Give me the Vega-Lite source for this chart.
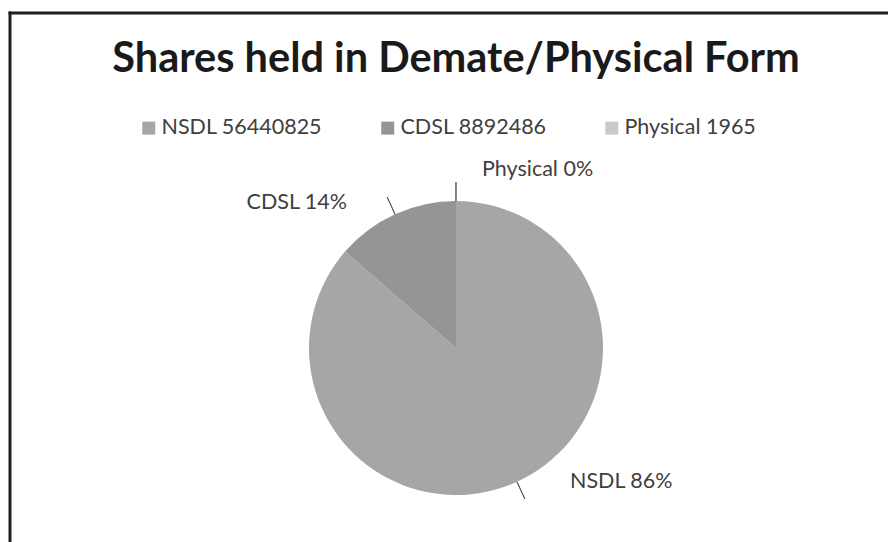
{
  "$schema": "https://vega.github.io/schema/vega-lite/v6.json",
  "autosize": "none",
  "width": 864,
  "height": 388,
  "padding": {"left": 24, "top": 154, "right": 0, "bottom": 0},
  "background": "white",
  "config": {
    "view": {"stroke": null},
    "font": "Lato"
  },
  "title": {
    "text": "Shares held in Demate/Physical Form",
    "orient": "top",
    "anchor": "middle",
    "offset": -70,
    "font": "Lato",
    "fontSize": 41.5,
    "fontWeight": "bold",
    "color": "#1a1a1a"
  },
  "data": {
    "values": [
      {"category": "NSDL", "entry": "NSDL 56440825", "value": 56440825, "rank": 1, "label": "NSDL 86%"},
      {"category": "CDSL", "entry": "CDSL 8892486", "value": 8892486, "rank": 2, "label": "CDSL 14%"},
      {"category": "Physical", "entry": "Physical 1965", "value": 1965, "rank": 3, "label": "Physical 0%"}
    ]
  },
  "layer": [
    {
      "data": {"values": [{"frame": 1}]},
      "mark": {"type": "rule", "stroke": "#1e1e1e", "strokeWidth": 3},
      "encoding": {"x": {"value": -15.5}, "x2": {"value": 880}, "y": {"value": -141}}
    },
    {
      "data": {"values": [{"frame": 1}]},
      "mark": {"type": "rule", "stroke": "#1e1e1e", "strokeWidth": 3},
      "encoding": {"x": {"value": -14}, "y": {"value": -142.5}, "y2": {"value": 400}}
    },
    {
      "encoding": {
        "theta": {"field": "value", "type": "quantitative", "stack": true},
        "order": {"field": "rank", "type": "quantitative"}
      },
      "layer": [
        {
          "mark": {"type": "arc", "outerRadius": 147},
          "encoding": {
            "color": {
              "field": "entry",
              "type": "nominal",
              "scale": {
                "domain": ["NSDL 56440825", "CDSL 8892486", "Physical 1965"],
                "range": ["#a5a6a8", "#959597", "#c9c9cb"]
              },
              "legend": {
                "title": null,
                "orient": "none",
                "direction": "horizontal",
                "legendX": 114,
                "legendY": -37,
                "symbolType": "square",
                "symbolSize": 169,
                "symbolStrokeWidth": 0,
                "labelFont": "Lato",
                "labelFontSize": 21.5,
                "labelColor": "#404040",
                "labelLimit": 400,
                "labelOffset": 2,
                "columnPadding": 54
              }
            }
          }
        },
        {
          "mark": {"type": "arc", "innerRadius": 147, "outerRadius": 166, "padAngle": 3.2, "filled": false, "strokeWidth": 1},
          "encoding": {
            "stroke": {
              "condition": {"test": "datum.category !== 'NSDL'", "value": "#595959"},
              "value": "transparent"
            }
          }
        },
        {
          "mark": {"type": "arc", "innerRadius": 147, "outerRadius": 166, "padAngle": 3.2, "thetaOffset": 3.14159, "filled": false, "strokeWidth": 1},
          "encoding": {
            "stroke": {
              "condition": {"test": "datum.category === 'CDSL'", "value": "#595959"},
              "value": "transparent"
            }
          }
        },
        {
          "mark": {"type": "text", "radius": 147, "align": "left", "baseline": "middle", "dx": 53, "dy": 0, "font": "Lato", "fontSize": 21.5, "color": "#404040"},
          "encoding": {
            "text": {"condition": {"test": "datum.category === 'NSDL'", "field": "label"}, "value": ""}
          }
        },
        {
          "mark": {"type": "text", "radius": 147, "align": "right", "baseline": "middle", "dx": -48, "dy": -11, "font": "Lato", "fontSize": 21.5, "color": "#404040"},
          "encoding": {
            "text": {"condition": {"test": "datum.category === 'CDSL'", "field": "label"}, "value": ""}
          }
        },
        {
          "mark": {"type": "text", "radius": 147, "align": "left", "baseline": "middle", "dx": 26, "dy": -31, "font": "Lato", "fontSize": 21.5, "color": "#404040"},
          "encoding": {
            "text": {"condition": {"test": "datum.category === 'Physical'", "field": "label"}, "value": ""}
          }
        }
      ]
    }
  ]
}
